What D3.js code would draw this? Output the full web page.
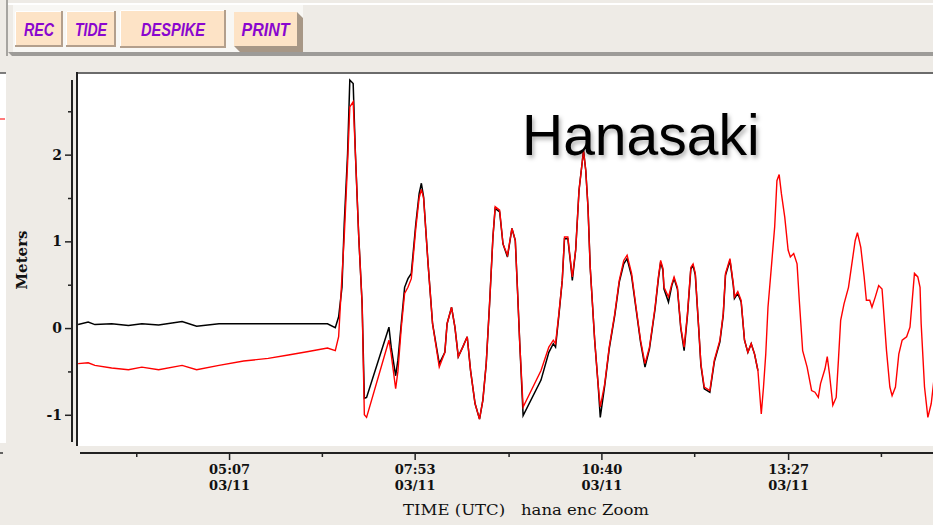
<!DOCTYPE html>
<html>
<head>
<meta charset="utf-8">
<script src="https://cdn.jsdelivr.net/npm/d3@7"></script>
<style>
  body { margin: 0; background: #eeebe6; overflow: hidden; }
  svg { display: block; }
</style>
</head>
<body>
<div id="chart"></div>
<script>
// sample times, minutes after 00:00 UTC on 03/11
let minutes = [
  172, 181, 187, 202, 217, 229, 244, 265, 278, 298, 320, 342, 360, 378, 395, 402,
  405, 408, 410, 413, 415, 418, 420, 423, 426, 428, 430, 450, 452, 456, 458, 461,
  464, 467, 470, 474, 477, 479, 481, 485, 489, 495, 500, 502, 506, 509, 512, 516,
  520, 523, 527, 531, 534, 537, 540, 543, 545, 549, 552, 556, 560, 563, 565, 567,
  570, 586, 593, 597, 599, 602, 605, 607, 610, 613, 614, 617, 620, 623, 624, 626,
  628, 630, 634, 637, 639, 643, 647, 652, 656, 660, 663, 667, 671, 675, 679, 683,
  688, 691, 693, 695, 696, 700, 703, 705, 708, 711, 714, 717, 720, 722, 724, 727,
  729, 732, 737, 741, 746, 749, 751, 755, 758, 759, 762, 765, 768, 771, 774, 777,
  780, 783, 785, 787, 789, 792, 795, 797, 799, 801, 804, 807, 809, 812, 815, 817,
  820, 824, 828, 831, 834, 836, 840, 842, 844, 847, 850, 852, 854, 857, 861, 864,
  867, 869, 872, 875, 877, 880, 882, 885, 888, 891, 892, 895, 898, 900, 903, 906,
  909, 913, 916, 918, 920, 923, 925, 926, 929, 932, 935, 938, 941
];

// red trace (meters)
let redValues = [
  -0.41, -0.40, -0.43, -0.46, -0.48, -0.45, -0.48, -0.43, -0.48, -0.43, -0.38, -0.35, -0.31, -0.27, -0.23, -0.26,
  -0.10, 0.60, 1.05, 1.90, 2.55, 2.61, 2.01, 1.05, 0.28, -1.00, -1.03, -0.14, -0.30, -0.70, -0.50, 0.00,
  0.40, 0.47, 0.57, 1.15, 1.50, 1.60, 1.50, 0.74, 0.05, -0.45, -0.28, 0.05, 0.24, 0.01, -0.33, -0.22,
  -0.10, -0.49, -0.87, -1.05, -0.83, -0.41, 0.28, 1.05, 1.40, 1.36, 0.97, 0.84, 1.15, 1.01, 0.43, -0.18,
  -0.91, -0.49, -0.22, -0.14, -0.18, 0.17, 0.55, 1.05, 1.05, 0.70, 0.59, 0.90, 1.59, 1.93, 2.05, 1.82,
  1.40, 0.70, -0.14, -0.64, -0.91, -0.64, -0.22, 0.17, 0.55, 0.78, 0.84, 0.63, 0.24, -0.14, -0.41, -0.22,
  0.24, 0.59, 0.78, 0.69, 0.47, 0.36, 0.51, 0.59, 0.47, 0.01, -0.22, 0.17, 0.70, 0.74, 0.63, 0.01,
  -0.41, -0.68, -0.72, -0.37, -0.14, 0.17, 0.63, 0.80, 0.51, 0.36, 0.42, 0.32, -0.14, -0.28, -0.18, -0.30,
  -0.49, -0.99, -0.68, -0.30, 0.24, 0.70, 1.17, 1.70, 1.77, 1.55, 1.28, 0.90, 0.82, 0.86, 0.74, 0.32,
  -0.26, -0.45, -0.72, -0.74, -0.80, -0.64, -0.47, -0.33, -0.53, -0.89, -0.80, -0.37, 0.09, 0.28, 0.47, 0.74,
  1.01, 1.10, 0.93, 0.59, 0.32, 0.32, 0.24, 0.36, 0.49, 0.45, 0.28, -0.26, -0.68, -0.78, -0.68, -0.30,
  -0.14, -0.10, 0.01, 0.32, 0.63, 0.59, 0.47, 0.05, -0.68, -1.03, -0.87, -0.53, 0.00
];

// black trace (meters); after ~13:00 it lies under the red one
let blackValues = [
  0.04, 0.07, 0.04, 0.05, 0.03, 0.05, 0.035, 0.075, 0.02, 0.05, 0.05, 0.05, 0.05, 0.05, 0.05, 0.005,
  0.13, 0.47, 1.20, 2.01, 2.86, 2.82, 2.01, 1.05, 0.28, -0.81, -0.80, 0.01, -0.22, -0.55, -0.37, 0.05,
  0.47, 0.57, 0.63, 1.20, 1.55, 1.67, 1.51, 0.74, 0.05, -0.41, -0.28, 0.05, 0.24, 0.01, -0.33, -0.22,
  -0.10, -0.49, -0.87, -1.05, -0.83, -0.41, 0.28, 1.05, 1.38, 1.34, 0.97, 0.82, 1.15, 1.01, 0.43, -0.18,
  -1.01, -0.60, -0.28, -0.18, -0.22, 0.15, 0.55, 1.03, 1.03, 0.68, 0.55, 0.90, 1.59, 1.93, 2.05, 1.82,
  1.40, 0.70, -0.14, -0.64, -1.03, -0.66, -0.24, 0.15, 0.53, 0.74, 0.80, 0.60, 0.22, -0.16, -0.45, -0.24,
  0.22, 0.57, 0.76, 0.67, 0.45, 0.30, 0.49, 0.57, 0.45, 0.00, -0.26, 0.15, 0.68, 0.72, 0.61, 0.00,
  -0.43, -0.70, -0.74, -0.39, -0.16, 0.15, 0.61, 0.78, 0.49, 0.34, 0.40, 0.30, -0.14, -0.28, -0.18, -0.30,
  -0.49
];

let majorTicks = [307, 473, 640, 807];
let minorTicks = [224, 390, 557, 723, 890];
let timeLabels = ["05:07", "07:53", "10:40", "13:27"];
let dateLabels = ["03/11", "03/11", "03/11", "03/11"];
let meterTicks = [-1, 0, 1, 2];
let meterMinor = [-0.5, 0.5, 1.5, 2.5];
let buttonLabels = ["REC", "TIDE", "DESPIKE", "PRINT"];

// layout
let width = 933, height = 525;
let plot = {left: 77, top: 74, right: 948, bottom: 446};
let axisY = 453;
let axisX = 72;
let buttonBoxes = [
  {x: 15, y: 11, w: 48, h: 36, tw: 30},
  {x: 66, y: 11, w: 50, h: 36, tw: 32},
  {x: 120, y: 10, w: 106, h: 38, tw: 64},
  {x: 234, y: 12, w: 63, h: 34, tw: 48}
];

let svg = d3.select("#chart").append("svg")
    .attr("width", width)
    .attr("height", height);

let defs = svg.append("defs");
defs.append("clipPath").attr("id", "plotClip")
    .append("rect")
    .attr("x", plot.left + 1).attr("y", plot.top)
    .attr("width", plot.right - plot.left).attr("height", plot.bottom - plot.top);
let shadow = defs.append("filter").attr("id", "shadow")
    .attr("x", "-10%").attr("y", "-20%").attr("width", "130%").attr("height", "150%");
shadow.append("feDropShadow")
    .attr("dx", 2).attr("dy", 3).attr("stdDeviation", 2)
    .attr("flood-color", "#000").attr("flood-opacity", 0.3);

svg.append("rect").attr("width", width).attr("height", height).attr("fill", "#eeebe6");

// toolbar
svg.append("rect").attr("x", 8).attr("y", 3).attr("width", width).attr("height", 2).attr("fill", "#ffffff");
svg.append("rect").attr("x", 13).attr("y", 5).attr("width", 290).attr("height", 47).attr("fill", "#f8f7f4");
svg.append("rect").attr("x", 303).attr("y", 5).attr("width", width).attr("height", 47).attr("fill", "#eeebe6");
svg.append("path")
    .attr("d", `M8,52 L${width},52 L${width},56 L12,56 Z`)
    .attr("fill", "#9d9b98");
svg.append("line").attr("x1", 7).attr("x2", 7).attr("y1", 0).attr("y2", 56)
    .attr("stroke", "#8e8c89").attr("stroke-width", 1.5);

// PRINT has a heavy bevel shadow
let pb = buttonBoxes[3];
svg.append("polygon")
    .attr("points", [
        [pb.x + pb.w, pb.y], [pb.x + pb.w + 6, pb.y + 6], [pb.x + pb.w + 6, pb.y + pb.h + 6],
        [pb.x + 6, pb.y + pb.h + 6], [pb.x, pb.y + pb.h], [pb.x + pb.w, pb.y + pb.h]
    ].join(" "))
    .attr("fill", "#a79786");

let btn = svg.selectAll("g.btn")
    .data(buttonLabels)
    .enter()
    .append("g")
    .attr("class", "btn")
    .attr("transform", (d, i) => `translate(${buttonBoxes[i].x},${buttonBoxes[i].y})`);
btn.append("rect")
    .attr("width", (d, i) => buttonBoxes[i].w)
    .attr("height", (d, i) => buttonBoxes[i].h)
    .attr("fill", "#fde3c6");
btn.filter((d, i) => i < 3).append("path")
    .attr("d", (d, i) => `M0,${buttonBoxes[i].h - 1} L${buttonBoxes[i].w - 1},${buttonBoxes[i].h - 1} L${buttonBoxes[i].w - 1},0`)
    .attr("fill", "none").attr("stroke", "#b39f8c").attr("stroke-width", 2);
btn.filter((d, i) => i < 3).append("path")
    .attr("d", (d, i) => `M0.5,${buttonBoxes[i].h - 2} L0.5,0.5 L${buttonBoxes[i].w - 2},0.5`)
    .attr("fill", "none").attr("stroke", "#ffffff").attr("stroke-width", 1);
btn.append("text")
    .attr("x", (d, i) => buttonBoxes[i].w / 2)
    .attr("y", (d, i) => buttonBoxes[i].h / 2 + 6.5)
    .attr("text-anchor", "middle")
    .attr("textLength", (d, i) => buttonBoxes[i].tw)
    .attr("lengthAdjust", "spacingAndGlyphs")
    .style("font-family", "'Liberation Sans', Arial, sans-serif")
    .style("font-weight", "bold")
    .style("font-style", "italic")
    .style("font-size", "18px")
    .attr("fill", "#8a06cf")
    .text(d => d);

// remains of the panel on the left
svg.append("rect").attr("x", 0).attr("y", 73).attr("width", 6).attr("height", 370).attr("fill", "#ffffff");
svg.append("line").attr("x1", 0).attr("x2", 6).attr("y1", 73).attr("y2", 73).attr("stroke", "#555").attr("stroke-width", 1.5);
svg.append("line").attr("x1", 0).attr("x2", 5).attr("y1", 119).attr("y2", 119).attr("stroke", "#ff2020").attr("stroke-width", 1.2);
svg.append("line").attr("x1", 0).attr("x2", 3).attr("y1", 453).attr("y2", 453).attr("stroke", "#333").attr("stroke-width", 1.5);

// plot box
svg.append("rect")
    .attr("x", plot.left).attr("y", plot.top)
    .attr("width", width - plot.left).attr("height", plot.bottom - plot.top)
    .attr("fill", "#ffffff");

let xScale = d3.scaleLinear().domain([171, 950]).range([plot.left, plot.right]);
let yScale = d3.scaleLinear().domain([-1.36, 2.93]).range([plot.bottom, plot.top]);

let line = d3.line()
    .x((d, i) => xScale(minutes[i]))
    .y(d => yScale(d));

let lines = svg.append("g").attr("clip-path", "url(#plotClip)");
lines.append("path")
    .attr("d", line(blackValues))
    .attr("fill", "none").attr("stroke", "#000").attr("stroke-width", 1.5);
lines.append("path")
    .attr("d", line(redValues))
    .attr("fill", "none").attr("stroke", "#ff0000").attr("stroke-width", 1.4);

svg.append("line")
    .attr("x1", plot.left).attr("x2", width).attr("y1", plot.top - 1).attr("y2", plot.top - 1)
    .attr("stroke", "#6b6b6b").attr("stroke-width", 2);
svg.append("line")
    .attr("x1", plot.left).attr("x2", plot.left).attr("y1", plot.top - 2).attr("y2", plot.bottom)
    .attr("stroke", "#222").attr("stroke-width", 2);

// y axis
let yAxis = d3.axisLeft(yScale).tickValues(meterTicks).tickSize(7).tickSizeOuter(0).tickFormat(d => String(d));
let gy = svg.append("g").attr("transform", `translate(${axisX},0)`).call(yAxis);
gy.select(".domain").remove();
gy.selectAll(".tick line").attr("stroke", "#222").attr("stroke-width", 1.5);
gy.selectAll(".tick text")
    .attr("x", -10)
    .attr("fill", "#111")
    .style("font-family", "'DejaVu Serif', serif")
    .style("font-weight", "bold")
    .style("font-size", "14px");
let gyMinor = svg.append("g").attr("transform", `translate(${axisX},0)`)
    .call(d3.axisLeft(yScale).tickValues(meterMinor).tickSize(4).tickSizeOuter(0).tickFormat(""));
gyMinor.select(".domain").remove();
gyMinor.selectAll(".tick line").attr("stroke", "#222").attr("stroke-width", 1.5);
svg.append("line")
    .attr("x1", axisX).attr("x2", axisX).attr("y1", 80).attr("y2", 442)
    .attr("stroke", "#222").attr("stroke-width", 2);

svg.append("text")
    .attr("transform", `translate(27,260) rotate(-90)`)
    .attr("text-anchor", "middle")
    .attr("fill", "#111")
    .style("font-family", "'DejaVu Serif', serif")
    .style("font-weight", "bold")
    .style("font-size", "15px")
    .text("Meters");

// x axis
let xAxis = d3.axisBottom(xScale).tickValues(majorTicks).tickSize(7).tickSizeOuter(0).tickFormat("");
let gx = svg.append("g").attr("transform", `translate(0,${axisY})`).call(xAxis);
gx.select(".domain").remove();
gx.selectAll(".tick line").attr("stroke", "#222").attr("stroke-width", 1.5);
gx.selectAll(".tick").append("text")
    .attr("y", 21)
    .text((d, i) => timeLabels[i]);
gx.selectAll(".tick").append("text")
    .attr("y", 37)
    .text((d, i) => dateLabels[i]);
gx.selectAll(".tick text")
    .attr("text-anchor", "middle")
    .attr("fill", "#111")
    .style("font-family", "'DejaVu Serif', serif")
    .style("font-weight", "bold")
    .style("font-size", "13px");
let gxMinor = svg.append("g").attr("transform", `translate(0,${axisY})`)
    .call(d3.axisBottom(xScale).tickValues(minorTicks).tickSize(4).tickSizeOuter(0).tickFormat(""));
gxMinor.select(".domain").remove();
gxMinor.selectAll(".tick line").attr("stroke", "#222").attr("stroke-width", 1.5);
svg.append("line")
    .attr("x1", 80).attr("x2", width).attr("y1", axisY).attr("y2", axisY)
    .attr("stroke", "#222").attr("stroke-width", 2);

svg.append("text")
    .attr("x", 526).attr("y", 515)
    .attr("text-anchor", "middle")
    .attr("textLength", 246)
    .attr("lengthAdjust", "spacingAndGlyphs")
    .attr("fill", "#111")
    .style("font-family", "'DejaVu Serif', serif")
    .style("font-size", "15px")
    .style("white-space", "pre")
    .text("TIME (UTC)   hana enc Zoom");

// station name
svg.append("text")
    .attr("x", 522).attr("y", 155)
    .attr("fill", "#000")
    .attr("filter", "url(#shadow)")
    .style("font-family", "'Liberation Sans', Arial, sans-serif")
    .style("font-size", "57px")
    .text("Hanasaki");
</script>
</body>
</html>
